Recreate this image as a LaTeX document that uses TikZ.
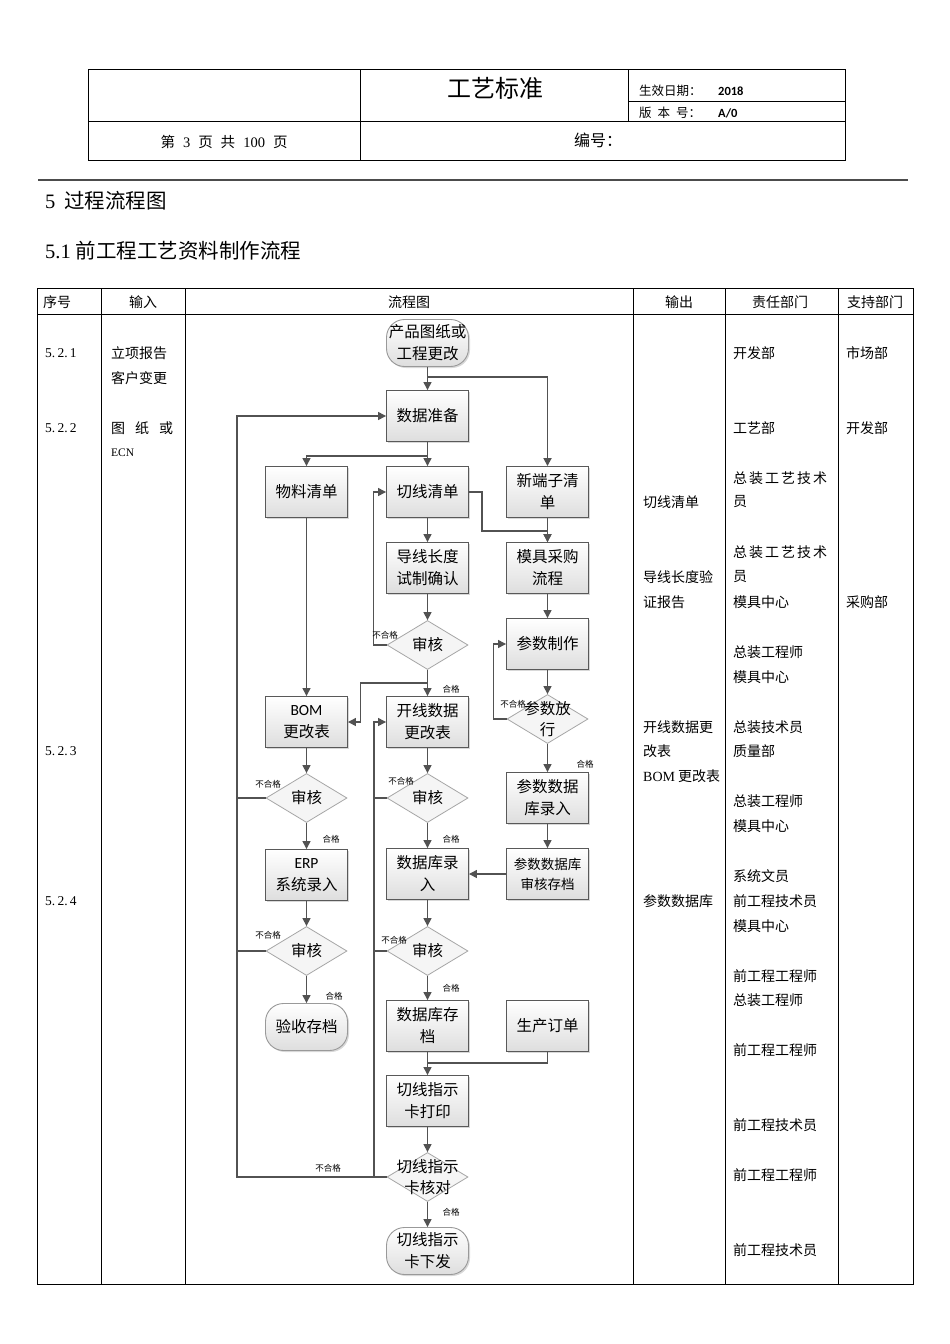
\documentclass[tikz,border=0pt]{standalone}
\usepackage{fontspec}
\setmainfont{Noto Sans CJK SC}
\newfontfamily\rmlat{Liberation Serif}
\newfontfamily\callat{Carlito}
\usepackage{tikz}
\usetikzlibrary{arrows.meta, shapes.geometric, shadows}

\tikzset{
  box/.style={rectangle, draw=black!65, line width=0.9pt, top color=white, bottom color=black!13,
    minimum width=82pt, minimum height=51pt, inner sep=2pt, align=center,
    font=\fontsize{15.5}{22}\selectfont,
    drop shadow={shadow xshift=1.5pt, shadow yshift=-1.5pt, opacity=0.3}},
  term/.style={box, draw=black!40, rounded corners=18pt, minimum height=47pt},
  check/.style={diamond, draw=black!35, line width=0.8pt, fill=black!4,
    minimum width=81pt, minimum height=49pt, inner sep=0pt,
    font=\fontsize{15.5}{22}\selectfont},
  dtext/.style={align=center, inner sep=0pt, font=\fontsize{15.5}{21}\selectfont},
  flow/.style={draw=black!68, line width=1.3pt, -{Triangle[length=8pt,width=8pt]}},
  link/.style={draw=black!68, line width=1.3pt},
  tag/.style={inner sep=0pt, font=\fontsize{8.5}{9}\selectfont},
  cell/.style={anchor=west, inner sep=0pt, font=\fontsize{14}{16}\selectfont},
  head/.style={inner sep=0pt, font=\fontsize{14}{16}\selectfont},
}

\begin{document}
\begin{tikzpicture}[x=1pt, y=-1pt]
    \useasboundingbox[fill=white] (0,0) rectangle (950,1344);

    % page header
    \draw[line width=0.9pt] (88,69) rectangle (845,160);
    \draw[line width=0.9pt] (360,69) -- (360,160);
    \draw[line width=0.9pt] (88,121) -- (845,121);
    \draw[line width=0.7pt] (628,69) -- (628,121);
    \draw[line width=0.7pt] (628,101) -- (845,101);
    \node[font=\fontsize{24}{26}\selectfont] (title) at (495,88) {工艺标准};
    \node[cell, font=\fontsize{12.5}{14}\selectfont] (date) at (639,91) {生效日期：};
    \node[cell, font=\callat\bfseries\fontsize{12.5}{14}\selectfont] (year) at (718,91) {2018};
    \node[cell, font=\fontsize{12.5}{14}\selectfont] (ver) at (639,113) {版\hspace{6pt}本\hspace{6pt}号：};
    \node[cell, font=\callat\bfseries\fontsize{12.5}{14}\selectfont] (vernum) at (718,113) {A/0};
    \node[head, font=\fontsize{14.5}{16}\selectfont] (page) at (224,142)
        {第\hspace{8pt}{\rmlat 3}\hspace{8pt}页\hspace{8pt}共\hspace{8pt}{\rmlat 100}\hspace{8pt}页};
    \node[head, font=\fontsize{16}{18}\selectfont] (code) at (598,140) {编号：};

    \draw[line width=2pt, black!70] (38,180) -- (908,180);
    \node[cell, font=\fontsize{20.5}{22}\selectfont] (sec) at (45,201) {{\rmlat 5}\hspace{9pt}过程流程图};
    \node[cell, font=\fontsize{20.5}{22}\selectfont] (subsec) at (45,251) {{\rmlat 5.1}\hspace{5pt}前工程工艺资料制作流程};

    % table frame
    \draw[line width=1pt] (37,288) rectangle (913,1284);
    \draw[line width=0.8pt] (37,314) -- (913,314);
    \foreach \x in {101,185,633,725,838}
        \draw[line width=0.8pt] (\x,288) -- (\x,1284);
    \node[head] (h1) at (57,302) {序号};
    \node[head] (h2) at (143,302) {输入};
    \node[head] (h3) at (409,302) {流程图};
    \node[head] (h4) at (679,302) {输出};
    \node[head] (h5) at (780,302) {责任部门};
    \node[head] (h6) at (875,302) {支持部门};

    % step numbers and inputs
    \node[cell, font=\rmlat\fontsize{13.5}{15}\selectfont] (no1) at (45,353) {5.\,2.\,1};
    \node[cell, font=\rmlat\fontsize{13.5}{15}\selectfont] (no2) at (45,428) {5.\,2.\,2};
    \node[cell, font=\rmlat\fontsize{13.5}{15}\selectfont] (no3) at (45,751) {5.\,2.\,3};
    \node[cell, font=\rmlat\fontsize{13.5}{15}\selectfont] (no4) at (45,901) {5.\,2.\,4};
    \node[cell] (in1) at (111,353) {立项报告};
    \node[cell] (in2) at (111,378) {客户变更};
    \node[cell] (in3) at (111,428) {图\hspace{10pt}纸\hspace{10pt}或};
    \node[cell, font=\rmlat\fontsize{11.5}{13}\selectfont] (in4) at (111,453) {ECN};

    % outputs
    \node[cell] (out1) at (643,502) {切线清单};
    \node[cell] (out2) at (643,577) {导线长度验};
    \node[cell] (out3) at (643,602) {证报告};
    \node[cell] (out4) at (643,727) {开线数据更};
    \node[cell] (out5) at (643,751) {改表};
    \node[cell] (out6) at (643,776) {{\rmlat BOM} 更改表};
    \node[cell] (out7) at (643,901) {参数数据库};

    % departments
    \foreach \y/\t [count=\i] in {353/开发部, 428/工艺部,
        478/总\hspace{2pt}装\hspace{2pt}工\hspace{2pt}艺\hspace{2pt}技\hspace{2pt}术, 502/员,
        552/总\hspace{2pt}装\hspace{2pt}工\hspace{2pt}艺\hspace{2pt}技\hspace{2pt}术, 577/员,
        602/模具中心, 652/总装工程师, 677/模具中心,
        727/总装技术员, 751/质量部, 801/总装工程师, 826/模具中心, 876/系统文员,
        901/前工程技术员, 926/模具中心, 976/前工程工程师, 1000/总装工程师,
        1050/前工程工程师, 1125/前工程技术员, 1175/前工程工程师, 1250/前工程技术员}
        \node[cell] (duty\i) at (733,\y) {\t};
    \node[cell] (help1) at (846,353) {市场部};
    \node[cell] (help2) at (846,428) {开发部};
    \node[cell] (help3) at (846,602) {采购部};

    % flow chart nodes
    \node[term] (start) at (427.5,343) {产品图纸或\\工程更改};
    \node[box] (prep) at (427.5,416) {数据准备};
    \node[box] (matlist) at (306.5,492) {物料清单};
    \node[box] (cutlist) at (427.5,492) {切线清单};
    \node[box] (newterm) at (547.5,492) {新端子清\\单};
    \node[box] (wirelen) at (427.5,568) {导线长度\\试制确认};
    \node[box] (mould) at (547.5,568) {模具采购\\流程};
    \node[check] (chk1) at (427.5,645) {审核};
    \node[box] (param) at (547.5,644) {参数制作};
    \node[box] (bom) at (306.5,722) {{\callat BOM}\\更改表};
    \node[box] (openlist) at (427.5,722) {开线数据\\更改表};
    \node[check, label={[dtext]center:参数放\\行}] (release) at (547.5,719) {};
    \node[check] (chk2) at (306.5,798) {审核};
    \node[check] (chk3) at (427.5,798) {审核};
    \node[box] (pdbin) at (547.5,798) {参数数据\\库录入};
    \node[box] (erp) at (306.5,875) {{\callat ERP}\\系统录入};
    \node[box] (dbin) at (427.5,874) {数据库录\\入};
    \node[box, font=\fontsize{13.5}{20}\selectfont] (pdbarch) at (547.5,874) {参数数据库\\审核存档};
    \node[check] (chk4) at (306.5,951) {审核};
    \node[check] (chk5) at (427.5,951) {审核};
    \node[term] (accept) at (306.5,1027) {验收存档};
    \node[box] (dbarch) at (427.5,1026) {数据库存\\档};
    \node[box] (order) at (547.5,1026) {生产订单};
    \node[box] (print) at (427.5,1101) {切线指示\\卡打印};
    \node[check, label={[dtext]center:切线指示\\卡核对}] (chk6) at (427.5,1177) {};
    \node[term] (issue) at (427.5,1251) {切线指示\\卡下发};

    % junctions
    \coordinate (j1) at (427.5,377);
    \coordinate (j2) at (427.5,456);
    \coordinate (j3) at (482,531);
    \coordinate (j5) at (427.5,683);
    \coordinate (j6) at (427.5,1063);
    \coordinate (j7) at (237,1177);
    \coordinate (j8) at (374,1177);

    % connectors
    \draw[flow] (start) -- (prep);
    \draw[flow, line width=1.7pt] (j1) -| (newterm);
    \draw[flow] (prep) -- (cutlist);
    \draw[flow] (j2) -| (matlist);
    \draw[flow] (matlist) -- (bom);
    \draw[flow] (cutlist) -- (wirelen);
    \draw[flow] (cutlist.east) -| (j3) -| (mould);
    \draw[flow] (newterm) -- (mould);
    \draw[flow] (wirelen) -- (chk1);
    \draw[flow] (chk1.west) -- ++(-13,0) |- (cutlist);
    \draw[flow] (chk1) -- (openlist);
    \draw[flow] (j5) -- ++(-67,0) |- (bom);
    \draw[flow] (mould) -- (param);
    \draw[flow] (param) -- (release);
    \draw[flow] (release.west) -- ++(-13,0) |- (param);
    \draw[flow] (release) -- (pdbin);
    \draw[flow] (pdbin) -- (pdbarch);
    \draw[flow] (pdbarch) -- (dbin);
    \draw[flow] (bom) -- (chk2);
    \draw[flow] (chk2) -- (erp);
    \draw[flow] (erp) -- (chk4);
    \draw[flow] (chk4) -- (accept);
    \draw[flow] (openlist) -- (chk3);
    \draw[flow] (chk3) -- (dbin);
    \draw[flow] (dbin) -- (chk5);
    \draw[flow] (chk5) -- (dbarch);
    \draw[flow] (dbarch) -- (print);
    \draw[link] (order) |- (j6);
    \draw[flow] (print) -- (chk6);
    \draw[flow] (chk6) -- (issue);
    \draw[flow] (chk6.west) -- (j7) |- (prep);
    \draw[link] (chk2.west) -- (chk2.west -| j7);
    \draw[link] (chk4.west) -- (chk4.west -| j7);
    \draw[flow] (j8) |- (openlist);
    \draw[link] (chk3.west) -- (chk3.west -| j8);
    \draw[link] (chk5.west) -- (chk5.west -| j8);

    % pass / fail tags
    \node[tag] (f1) at (385,635) {不合格};
    \node[tag] (p1) at (451,689) {合格};
    \node[tag] (f2) at (513,704) {不合格};
    \node[tag] (p2) at (585,764) {合格};
    \node[tag] (f3) at (268,784) {不合格};
    \node[tag] (p3) at (331,839) {合格};
    \node[tag] (f4) at (401,781) {不合格};
    \node[tag] (p4) at (451,839) {合格};
    \node[tag] (f5) at (268,935) {不合格};
    \node[tag] (p5) at (334,996) {合格};
    \node[tag] (f6) at (394,940) {不合格};
    \node[tag] (p6) at (451,988) {合格};
    \node[tag] (f7) at (328,1168) {不合格};
    \node[tag] (p7) at (451,1212) {合格};
\end{tikzpicture}
\end{document}
